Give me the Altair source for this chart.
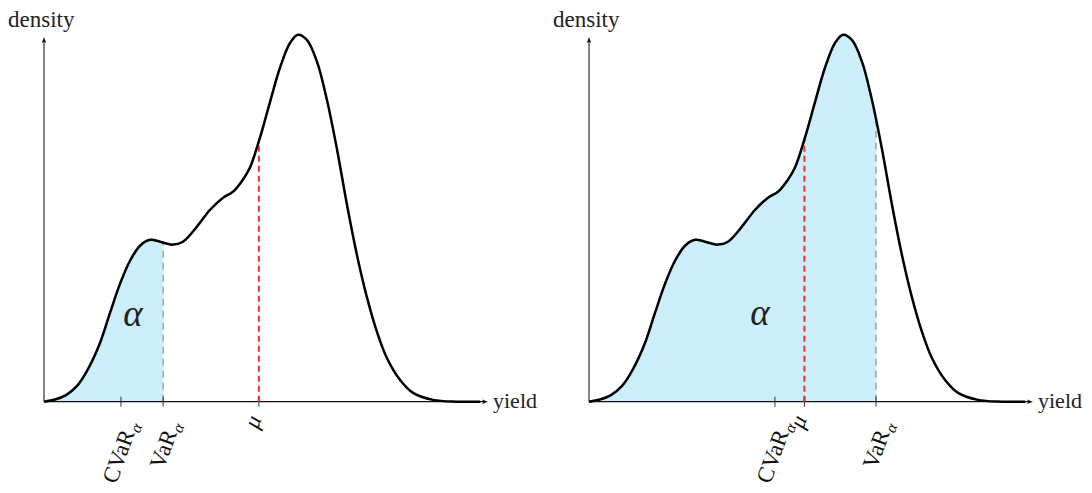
import altair as alt
import pandas as pd

# ---- data -----------------------------------------------------------------
# density curve (same shape in both panels); yield in arbitrary units, peak density = 1
yield_pts = [0, 0.433, 0.866, 1.299, 1.732, 2.205, 2.598, 2.992, 3.386, 3.780,
             4.173, 4.57, 5.08, 5.47, 6.02, 6.54, 7.05, 7.44, 7.83, 8.11,
             8.50, 8.90, 9.29, 9.69, 10.0, 10.35, 10.75, 11.14, 11.54, 11.93,
             12.32, 12.72, 13.11, 13.50, 14.02, 14.53, 15.31, 16.26, 17.17]
density_pts = [0, 0.006, 0.018, 0.043, 0.089, 0.160, 0.242, 0.321, 0.384, 0.425,
               0.441, 0.436, 0.428, 0.436, 0.477, 0.523, 0.556, 0.572, 0.605, 0.638,
               0.719, 0.817, 0.910, 0.978, 1.0, 0.986, 0.926, 0.822, 0.686, 0.536,
               0.400, 0.283, 0.190, 0.119, 0.059, 0.024, 0.005, 0, 0]

cvar_pos = [3.03, 7.32]      # CVaR_alpha tick, left / right panel
var_pos = [4.69, 11.30]      # VaR_alpha tick
mu_pos = [8.46, 8.48]        # mean tick
var_top = [0.434, 0.765]     # curve height at VaR
mu_top = [0.71, 0.713]       # curve height at mu
alpha_x = [3.50, 6.73]       # position of the alpha annotation
alpha_y = [0.236, 0.239]

tick_names = ["CVaR", "VaR"]
tick_sub = "α"
mu_name = "μ"
alpha_text = "α"
x_title = "yield"
y_title = "density"

# ---- styling / layout constants --------------------------------------------
FONT = "Liberation Serif"
PX = 25.4        # pixels per yield unit
PY = 367.0       # pixels per density unit
OX = 36          # x pixel of the origin inside a panel
OY = 393.7       # y pixel of the origin inside a panel
H = 477
FILL = "#cbeef9"
RED = "#f03232"
GRAY = "#7a7a7a"
one = pd.DataFrame({"k": [0]})
stealth = "M 1 0 L -1 -0.75 L -0.55 0 L -1 0.75 Z"


def panel(i, W):
    xs = alt.Scale(domain=[-OX / PX, (W - OX) / PX], nice=False, zero=False)
    ys = alt.Scale(domain=[-(H - OY) / PY, OY / PY], nice=False, zero=False)

    def X(f):
        return alt.X(f, type="quantitative", scale=xs, axis=None)

    def Y(f):
        return alt.Y(f, type="quantitative", scale=ys, axis=None)

    curve = pd.DataFrame({"u": yield_pts, "d": density_pts})
    v = var_pos[i]
    shade = pd.concat([curve[curve.u < v],
                       pd.DataFrame({"u": [v], "d": [var_top[i]]})],
                      ignore_index=True)

    area = alt.Chart(shade).mark_area(color=FILL, interpolate="catmull-rom", opacity=1).encode(
        x=X("u"), y=Y("d"), y2=alt.Y2(datum=0))

    vline = alt.Chart(pd.DataFrame({"u": [v], "top": [var_top[i]], "b": [0]})).mark_rule(
        color=GRAY, strokeWidth=1, strokeDash=[7, 5]).encode(x=X("u"), y=Y("b"), y2="top")
    mline = alt.Chart(pd.DataFrame({"u": [mu_pos[i]], "top": [mu_top[i]], "b": [0]})).mark_rule(
        color=RED, strokeWidth=2, strokeDash=[6, 4]).encode(x=X("u"), y=Y("b"), y2="top")

    xaxis = alt.Chart(one).mark_rule(color="#111", strokeWidth=1.3).encode(
        x=alt.value(OX), x2=alt.value(OX + 440), y=alt.value(OY))
    yaxis = alt.Chart(one).mark_rule(color="#222", strokeWidth=1.1).encode(
        y=alt.value(OY), y2=alt.value(33), x=alt.value(OX))
    xarrow = alt.Chart(one).mark_point(shape=stealth, filled=True, color="#111",
                                       size=36, opacity=1).encode(
        x=alt.value(OX + 441), y=alt.value(OY))
    yarrow = alt.Chart(one).mark_point(shape=stealth, filled=True, color="#111",
                                       size=36, opacity=1, angle=270).encode(
        x=alt.value(OX), y=alt.value(32))

    line = alt.Chart(curve).mark_line(color="black", strokeWidth=2.5,
                                      interpolate="catmull-rom").encode(x=X("u"), y=Y("d"))

    ticks_df = pd.DataFrame({"u": [cvar_pos[i], var_pos[i], mu_pos[i]]})
    ticks = alt.Chart(ticks_df).mark_rule(color="#333", strokeWidth=1).encode(
        x=X("u"), y=alt.value(OY - 5), y2=alt.value(OY + 5))
    mtick = alt.Chart(pd.DataFrame({"u": [mu_pos[i]]})).mark_rule(
        color=RED, strokeWidth=2).encode(x=X("u"), y=alt.value(OY - 5), y2=alt.value(OY))

    lab_df = pd.DataFrame({"u": [cvar_pos[i], var_pos[i]], "name": tick_names,
                           "sub": [tick_sub, tick_sub]})
    lab_main = alt.Chart(lab_df).mark_text(
        font=FONT, fontSize=23, angle=290, align="right", baseline="alphabetic",
        dx=4.8, dy=13.2, color="#111").encode(x=X("u"), y=alt.value(425), text="name")
    lab_sub = alt.Chart(lab_df).mark_text(
        font=FONT, fontSize=16, fontStyle="italic", angle=290, align="left",
        baseline="alphabetic", dx=5.8, dy=17.8, color="#111").encode(
        x=X("u"), y=alt.value(425), text="sub")
    lab_mu = alt.Chart(pd.DataFrame({"u": [mu_pos[i]], "name": [mu_name]})).mark_text(
        font=FONT, fontSize=23, fontStyle="italic", angle=290, align="right",
        baseline="alphabetic", dx=14.3, dy=-2.3, color="#111").encode(
        x=X("u"), y=alt.value(425), text="name")

    alpha = alt.Chart(pd.DataFrame({"u": [alpha_x[i]], "d": [alpha_y[i]],
                                    "t": [alpha_text]})).mark_text(
        font=FONT, fontSize=37, fontStyle="italic", align="center", baseline="middle",
        color="#222").encode(x=X("u"), y=Y("d"), text="t")

    ytitle = alt.Chart(pd.DataFrame({"t": [y_title]})).mark_text(
        font=FONT, fontSize=23, align="left", baseline="alphabetic", color="#222").encode(
        x=alt.value(0), y=alt.value(19), text="t")
    xtitle = alt.Chart(pd.DataFrame({"t": [x_title]})).mark_text(
        font=FONT, fontSize=22, align="left", baseline="alphabetic", color="#222").encode(
        x=alt.value(OX + 449), y=alt.value(OY + 6.5), text="t")

    return alt.layer(area, vline, mline, xaxis, yaxis, xarrow, yarrow, line, ticks, mtick,
                     lab_main, lab_sub, lab_mu, alpha, ytitle, xtitle).properties(
        width=W, height=H)


chart = alt.hconcat(panel(0, 536), panel(1, 531), spacing=9).properties(
    padding=0, background="white").configure_view(strokeWidth=0)

chart.save("out.html", embed_options={"renderer": "svg", "actions": False})
